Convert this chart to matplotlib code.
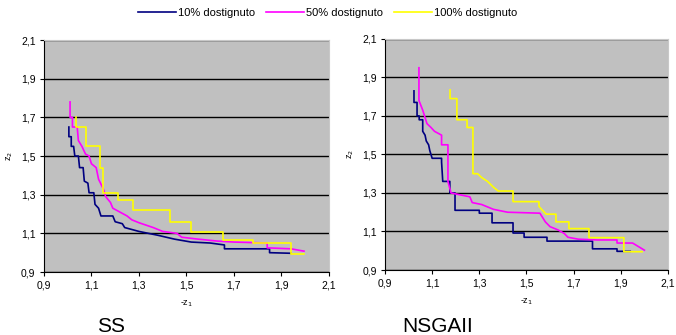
import matplotlib
matplotlib.use('Agg')
from matplotlib import pyplot as plt
from matplotlib.ticker import FuncFormatter
import numpy as np

plt.rcParams['font.family'] = ['Liberation Sans', 'DejaVu Sans']

# values (vertices of the step fronts)
ss_10_x = [1.005, 1.005, 1.015, 1.015, 1.025, 1.03, 1.045, 1.05, 1.065, 1.07, 1.085, 1.09, 1.11, 1.115,
           1.13, 1.14, 1.19, 1.20, 1.23, 1.24, 1.27, 1.30, 1.38, 1.45, 1.52, 1.60, 1.66, 1.66, 1.85, 1.85, 1.94]
ss_10_y = [1.65, 1.60, 1.60, 1.55, 1.55, 1.50, 1.50, 1.44, 1.44, 1.37, 1.36, 1.31, 1.31, 1.25,
           1.23, 1.19, 1.19, 1.16, 1.15, 1.13, 1.12, 1.11, 1.09, 1.07, 1.055, 1.05, 1.04, 1.02, 1.02, 1.00, 0.997]

ss_50_x = [1.01, 1.01, 1.02, 1.02, 1.04, 1.045, 1.06, 1.075, 1.09, 1.10, 1.12, 1.13, 1.15, 1.16, 1.18,
           1.19, 1.22, 1.25, 1.27, 1.30, 1.36, 1.40, 1.46, 1.48, 1.55, 1.63, 1.70, 1.84, 1.84, 1.94, 1.995]
ss_50_y = [1.78, 1.70, 1.70, 1.65, 1.65, 1.58, 1.55, 1.51, 1.50, 1.46, 1.44, 1.38, 1.33, 1.29, 1.26,
           1.23, 1.21, 1.19, 1.17, 1.155, 1.13, 1.11, 1.10, 1.08, 1.07, 1.06, 1.055, 1.05, 1.025, 1.02, 1.008]

ss_100_x = [1.035, 1.035, 1.075, 1.075, 1.135, 1.135, 1.15, 1.15, 1.21, 1.21, 1.275, 1.275, 1.43, 1.43,
            1.52, 1.52, 1.655, 1.655, 1.78, 1.78, 1.94, 1.94, 1.995]
ss_100_y = [1.70, 1.65, 1.65, 1.55, 1.55, 1.44, 1.44, 1.31, 1.31, 1.275, 1.275, 1.22, 1.22, 1.16,
            1.16, 1.105, 1.105, 1.065, 1.065, 1.05, 1.05, 0.995, 0.995]

ns_10_x = [1.023, 1.023, 1.036, 1.036, 1.045, 1.045, 1.06, 1.06, 1.07, 1.075, 1.085, 1.09, 1.10, 1.14,
           1.14, 1.145, 1.175, 1.175, 1.197, 1.197, 1.30, 1.30, 1.354, 1.354, 1.443, 1.443, 1.49, 1.49,
           1.587, 1.587, 1.78, 1.78, 1.884, 1.884, 1.94]
ns_10_y = [1.83, 1.77, 1.77, 1.70, 1.70, 1.68, 1.68, 1.62, 1.60, 1.57, 1.55, 1.52, 1.48, 1.48,
           1.46, 1.36, 1.36, 1.30, 1.30, 1.21, 1.21, 1.195, 1.195, 1.145, 1.145, 1.092, 1.092, 1.07,
           1.07, 1.05, 1.05, 1.01, 1.01, 0.997, 0.997]

ns_50_x = [1.044, 1.044, 1.06, 1.078, 1.095, 1.11, 1.14, 1.14, 1.167, 1.167, 1.18, 1.22, 1.26, 1.27,
           1.31, 1.36, 1.42, 1.557, 1.58, 1.60, 1.634, 1.66, 1.676, 1.72, 1.80, 1.884, 1.884, 1.95, 2.0]
ns_50_y = [1.95, 1.78, 1.73, 1.66, 1.64, 1.62, 1.60, 1.55, 1.55, 1.36, 1.30, 1.29, 1.28, 1.25,
           1.24, 1.215, 1.20, 1.195, 1.15, 1.125, 1.108, 1.09, 1.07, 1.06, 1.056, 1.056, 1.04, 1.04, 1.003]

ns_100_x = [1.176, 1.176, 1.205, 1.205, 1.248, 1.248, 1.273, 1.273, 1.293, 1.31, 1.335, 1.36, 1.38,
            1.443, 1.443, 1.553, 1.553, 1.583, 1.625, 1.625, 1.68, 1.68, 1.765, 1.765, 1.913, 1.913, 1.99]
ns_100_y = [1.835, 1.79, 1.79, 1.68, 1.68, 1.64, 1.64, 1.40, 1.40, 1.38, 1.36, 1.33, 1.31,
            1.31, 1.255, 1.255, 1.23, 1.19, 1.19, 1.15, 1.15, 1.115, 1.115, 1.068, 1.068, 0.995, 0.995]

labels = ['10% dostignuto', '50% dostignuto', '100% dostignuto']
colors = ['#000080', '#ff00ff', '#ffff00']
ticks = [0.9, 1.1, 1.3, 1.5, 1.7, 1.9, 2.1]


def comma(v, pos):
  return f'{v:.1f}'.replace('.', ',')


def style_axis(ax):
  ax.set_facecolor('#c0c0c0')
  ax.set_xlim(0.9, 2.1)
  ax.set_ylim(0.9, 2.1)
  ax.set_xticks(ticks)
  ax.set_yticks(ticks)
  ax.xaxis.set_major_formatter(FuncFormatter(comma))
  ax.yaxis.set_major_formatter(FuncFormatter(comma))
  ax.tick_params(labelsize=7.5, length=3, width=0.8, direction='out', pad=3)
  ax.yaxis.grid(True, color='black', linewidth=1)
  ax.set_axisbelow(True)
  for s in ['top', 'right']:
    ax.spines[s].set_color('#c8c8c8')
  for s in ['left', 'bottom']:
    ax.spines[s].set_color('black')
  ax.set_xlabel('-z$_1$', fontsize=6.5, labelpad=6)
  ax.set_ylabel('z$_2$', fontsize=6.5, labelpad=4)


def main():
  fig = plt.figure(figsize=(6.76, 3.35), dpi=100)
  ax1 = fig.add_axes([0.065, 0.188, 0.4216, 0.6925])
  ax2 = fig.add_axes([0.5695, 0.194, 0.4186, 0.69])

  series1 = [(ss_10_x, ss_10_y), (ss_50_x, ss_50_y), (ss_100_x, ss_100_y)]
  series2 = [(ns_10_x, ns_10_y), (ns_50_x, ns_50_y), (ns_100_x, ns_100_y)]

  for ax, series in [(ax1, series1), (ax2, series2)]:
    style_axis(ax)
    for (x, y), c, lab in zip(series, colors, labels):
      ax.plot(x, y, color=c, linewidth=1.2, label=lab)

  fig.legend(*ax1.get_legend_handles_labels(), loc='upper center',
             bbox_to_anchor=(0.485, 1.005), ncol=3, frameon=False, fontsize=8,
             handlelength=3.4, columnspacing=1.0, handletextpad=0.2)

  fig.text(111 / 676, 1 - 327 / 335, 'SS', fontsize=15, ha='center', va='center')
  fig.text(438 / 676, 1 - 327 / 335, 'NSGAII', fontsize=15, ha='center', va='center')

  fig.savefig('out.png', dpi=100)


if __name__ == '__main__':
  main()
